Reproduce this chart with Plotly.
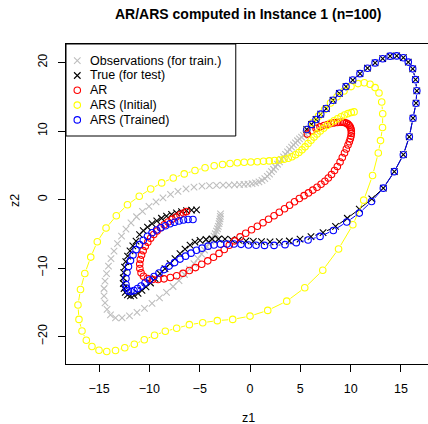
import math
import plotly.graph_objects as go

# ---------------- data ----------------
obs_z1 = [-2.93,-2.95,-2.98,-3.03,-3.08,-3.15,-3.23,-3.33,-3.45,-3.58,
          -3.73,-3.90,-4.08,-4.27,-4.52,-4.82,-5.17,-5.57,-6.01,-6.51,
          -7.06,-7.65,-8.30,-9.00,-9.74,-10.49,-11.23,-11.98,-12.72,-13.37,
          -13.87,-14.21,-14.41,-14.51,-14.51,-14.41,-14.26,-14.07,-13.82,-13.52,
          -13.17,-12.77,-12.33,-11.83,-11.28,-10.69,-10.04,-9.34,-8.65,-7.90,
          -7.16,-6.36,-5.57,-4.77,-4.03,-3.33,-2.68,-2.09,-1.54,-1.04,
          -0.60,-0.20,0.20,0.55,0.89,1.19,1.47,1.72,1.94,2.14,
          2.34,2.53,2.73,2.93,3.13,3.33,3.53,3.73,3.93,4.13,
          4.32,4.52,4.72,4.92,5.12,5.32,5.52,5.72]
obs_z2 = [-2.08,-2.44,-2.81,-3.17,-3.53,-3.90,-4.26,-4.62,-4.99,-5.35,
          -5.71,-6.08,-6.44,-6.88,-7.38,-7.97,-8.62,-9.35,-10.15,-10.94,
          -11.82,-12.69,-13.56,-14.36,-15.16,-15.89,-16.47,-16.98,-17.27,-17.27,
          -16.83,-16.03,-15.09,-14.07,-12.98,-11.89,-10.80,-9.71,-8.62,-7.53,
          -6.44,-5.35,-4.33,-3.39,-2.51,-1.72,-0.99,-0.33,0.25,0.76,
          1.19,1.56,1.80,1.95,2.02,2.06,2.09,2.11,2.14,2.17,
          2.21,2.25,2.33,2.43,2.57,2.79,3.05,3.37,3.71,4.06,
          4.42,4.78,5.15,5.51,5.87,6.24,6.60,6.96,7.33,7.66,
          7.98,8.28,8.58,8.85,9.11,9.36,9.59,9.81]

true_z1 = [5.64,6.11,6.56,7.03,7.58,8.25,8.88,9.54,10.21,10.93,
           11.68,12.43,13.19,13.92,14.58,15.24,15.73,16.17,16.45,16.58,
           16.50,16.20,15.83,15.24,14.34,13.25,
           12.10,10.86,9.67,8.50,7.26,6.06,4.97,3.91,2.91,1.99,
           1.14,0.33,-0.40,-1.14,-1.84,-2.49,-3.13,-3.78,-4.37,-4.97,
           -5.47,-5.96,-6.46,-6.96,-7.46,-7.95,-8.45,-8.95,-9.44,-9.89,
           -10.34,-10.74,-11.13,-11.53,-11.88,-12.18,-12.40,-12.52,-12.59,-12.60,
           -12.56,-12.47,-12.35,-12.17,-11.93,-11.65,-11.33,-10.98,-10.61,-10.19,
           -9.74,-9.27,-8.80,-8.30,-7.80,-7.31,-6.81,-6.31,-5.81,-5.32]
true_z2 = [10.23,10.97,11.69,12.46,13.28,14.49,15.51,16.48,17.44,18.37,
           19.17,19.94,20.55,20.93,20.96,20.70,20.06,19.07,17.50,15.87,
           14.06,11.88,9.16,6.54,4.07,1.66,
           0.10,-1.40,-2.73,-3.92,-4.84,-5.42,-5.78,-6.05,-6.15,-6.18,
           -6.15,-6.10,-6.03,-5.93,-5.86,-5.78,-5.76,-5.76,-5.83,-5.96,
           -6.22,-6.66,-7.24,-7.89,-8.62,-9.35,-10.07,-10.80,-11.53,-12.18,
           -12.76,-13.27,-13.68,-13.97,-14.07,-13.92,-13.56,-12.98,-12.25,-11.45,
           -10.65,-9.85,-9.06,-8.26,-7.50,-6.77,-6.08,-5.13,-4.55,-4.01,
           -3.53,-3.10,-2.73,-2.41,-2.15,-1.93,-1.76,-1.61,-1.53,-1.50]

ar_z1 = [5.70,6.13,6.56,6.96,7.36,7.72,8.05,8.38,8.68,8.95,
         9.17,9.37,9.57,9.74,9.87,9.97,10.04,10.07,10.07,10.04,9.97,9.87,
         9.74,9.57,9.39,9.17,8.95,8.68,8.40,8.10,7.78,7.44,
         7.06,6.66,6.24,5.81,5.37,4.90,4.42,3.93,3.43,2.91,
         2.39,1.84,1.29,0.73,0.15,-0.43,-0.99,-1.54,-2.06,-2.56,
         -3.08,-3.63,-4.20,-4.80,-5.42,-6.03,-6.66,-7.29,-7.92,-8.55,
         -9.14,-9.69,-10.19,-10.59,-10.83,
         -10.95,-10.96,-10.90,-10.78,-10.62,-10.41,-10.16,-9.88,-9.57,-9.24,
         -8.90,-8.53,-8.15,-7.75,-7.36,-6.96,-6.61,-6.31]
ar_z2 = [9.55,10.03,10.38,10.61,10.81,10.96,11.10,11.19,11.25,11.29,
         11.29,11.25,11.15,11.00,10.81,10.57,10.28,9.99,9.65,9.26,8.87,8.43,
         7.95,7.37,6.79,6.13,5.48,4.83,4.24,3.66,3.15,2.67,
         2.24,1.80,1.38,0.97,0.57,0.15,-0.33,-0.84,-1.35,-1.86,
         -2.37,-2.88,-3.39,-3.90,-4.40,-4.91,-5.45,-6.03,-6.66,-7.28,
         -7.86,-8.43,-8.95,-9.45,-9.93,-10.36,-10.77,-11.12,-11.38,-11.57,
         -11.67,-11.67,-11.53,-11.19,-10.70,
         -10.07,-9.42,-8.76,-8.11,-7.46,-6.83,-6.22,-5.64,-5.10,-4.59,
         -4.11,-3.68,-3.27,-2.89,-2.54,-2.22,-1.96,-1.74]

ars_init_z1 = [5.64,6.21,6.81,7.41,8.00,8.65,9.34,10.04,10.74,11.36,
               11.93,12.43,12.82,13.09,13.19,13.17,12.97,12.75,12.18,11.30,
               10.22,8.80,7.23,5.44,3.65,1.76,0.00,-1.72,-3.25,-4.70,
               -6.03,-7.29,-8.42,-9.49,-10.51,-11.50,-12.45,-13.37,-14.24,-15.01,
               -15.71,-16.27,-16.70,-17.00,-17.10,-16.85,-16.42,-15.83,-15.18,-14.31,
               -13.29,-12.18,-11.01,-9.87,-8.78,-7.63,-6.54,-5.47,-4.47,-3.56,
               -2.73,-1.99,-1.26,-0.58,0.08,0.73,1.34,1.91,2.44,2.93,
               3.38,3.80,4.17,4.52,4.85,5.17,5.47,5.77,6.06,6.36,
               6.66,6.98,7.31,7.65,8.00,8.35,8.70,9.05,9.39,9.74,10.06,10.34]
ars_init_z2 = [10.23,11.19,12.17,13.14,14.10,15.00,15.83,16.48,16.92,17.04,
               16.82,16.34,15.55,14.24,12.53,10.52,8.60,6.79,3.52,-0.09,
               -3.68,-7.21,-10.32,-12.88,-14.83,-16.18,-17.01,-17.49,-17.67,-17.97,
               -18.26,-18.79,-19.23,-19.81,-20.47,-21.12,-21.63,-22.02,-22.18,-21.99,
               -21.45,-20.54,-19.19,-17.49,-15.38,-13.13,-10.80,-8.40,-6.15,-4.16,
               -2.37,-0.77,0.49,1.53,2.43,3.15,3.74,4.24,4.65,4.93,
               5.12,5.26,5.36,5.44,5.48,5.52,5.58,5.64,5.70,5.77,
               5.87,6.03,6.25,6.53,6.86,7.25,7.69,8.17,8.65,9.11,
               9.58,10.01,10.42,10.81,11.18,11.51,11.80,12.08,12.33,12.54,12.70,12.79]

ars_tr_z1 = [5.64,6.11,6.56,7.03,7.58,8.25,8.88,9.54,10.21,10.93,
             11.68,12.43,13.19,13.92,14.58,15.24,15.73,16.17,16.45,16.58,
             16.50,16.20,15.83,15.24,14.34,13.25,12.08,10.86,9.61,8.28,
             6.96,5.77,4.60,3.48,2.39,1.44,0.60,-0.15,-0.89,-1.59,
             -2.29,-2.93,-3.58,-4.17,-4.77,-5.32,-5.86,-6.41,-6.96,-7.50,
             -8.05,-8.55,-9.05,-9.54,-9.99,-10.44,-10.83,-11.18,-11.53,-11.83,
             -12.08,-12.28,-12.33,-12.33,-12.23,-12.08,-11.88,-11.63,-11.33,-10.98,
             -10.61,-10.19,-9.74,-9.29,-8.85,-8.40,-7.95,-7.50,-7.06,-6.61,
             -6.16,-5.67]
ars_tr_z2 = [10.23,10.97,11.69,12.46,13.28,14.49,15.51,16.48,17.44,18.37,
             19.17,19.94,20.55,20.93,20.96,20.70,20.06,19.07,17.50,15.87,
             14.06,11.88,9.16,6.54,4.07,1.66,-0.29,-1.98,-3.28,-4.51,
             -5.38,-5.90,-6.29,-6.58,-6.69,-6.69,-6.66,-6.63,-6.54,-6.48,
             -6.48,-6.51,-6.63,-6.80,-7.09,-7.41,-7.82,-8.26,-8.69,-9.20,
             -9.71,-10.22,-10.73,-11.24,-11.74,-12.18,-12.62,-12.98,-13.27,-13.42,
             -13.34,-12.91,-12.40,-11.53,-10.65,-9.78,-8.91,-8.11,-7.31,-6.58,
             -5.93,-5.35,-4.84,-4.45,-4.11,-3.82,-3.53,-3.31,-3.13,-2.99,
             -2.92,-2.91]

x_ticks = [-15, -10, -5, 0, 5, 10, 15]
y_ticks = [-20, -10, 0, 10, 20]

legend_labels = ["Observations (for train.)", "True (for test)", "AR",
                 "ARS (Initial)", "ARS (Trained)"]
series_colors = ["#BEBEBE", "#000000", "#FF0000", "#FFFF00", "#0000FF"]
series_symbols = ["x-thin-open", "x-thin-open", "circle-open", "circle-open", "circle-open"]

FONT = "Liberation Sans, Arial, Helvetica, sans-serif"

X_RANGE = [-18.29, 17.69]
Y_RANGE = [-24.0, 22.7]
PLOT_W, PLOT_H = 362, 320
SX = PLOT_W / (X_RANGE[1] - X_RANGE[0])   # px per unit, x
SY = PLOT_H / (Y_RANGE[1] - Y_RANGE[0])   # px per unit, y


def gapped_segments(xs, ys, gap_px=4.5):
    """R type='b': join consecutive points with lines that stop short of each point."""
    gx, gy = [], []
    for i in range(len(xs) - 1):
        dx, dy = xs[i + 1] - xs[i], ys[i + 1] - ys[i]
        d = math.hypot(dx * SX, dy * SY)
        if d > 2 * gap_px + 0.5:
            f = gap_px / d
            gx += [xs[i] + dx * f, xs[i + 1] - dx * f, None]
            gy += [ys[i] + dy * f, ys[i + 1] - dy * f, None]
    return gx, gy


# ---------------- figure ----------------
fig = go.Figure()
series = [(obs_z1, obs_z2), (true_z1, true_z2), (ar_z1, ar_z2),
          (ars_init_z1, ars_init_z2), (ars_tr_z1, ars_tr_z2)]
for (xs, ys), col, sym, name in zip(series, series_colors, series_symbols, legend_labels):
    sx, sy = gapped_segments(xs, ys)
    fig.add_trace(go.Scatter(
        x=sx, y=sy, mode="lines", showlegend=False, hoverinfo="skip",
        line=dict(color=col, width=1), connectgaps=False))
    fig.add_trace(go.Scatter(
        x=xs, y=ys, mode="markers", name=name, showlegend=False,
        marker=dict(symbol=sym, size=6.5, color=col, line=dict(width=1.1, color=col)),
        hoverinfo="skip"))

# legend (R style, drawn manually)
leg_rows = [0.9478, 0.9016, 0.8553, 0.8091, 0.7628]
fig.add_trace(go.Scatter(
    x=[0.0312] * 5, y=leg_rows, xaxis="x2", yaxis="y2", mode="markers",
    showlegend=False, hoverinfo="skip",
    marker=dict(symbol=series_symbols, size=6.5, color=series_colors,
                line=dict(width=1.1, color=series_colors))))
fig.add_shape(type="rect", xref="paper", yref="paper", x0=0, x1=0.469,
              y0=0.7125, y1=1.0, line=dict(color="black", width=1),
              fillcolor="white", layer="below")
for lab, yy in zip(legend_labels, leg_rows):
    fig.add_annotation(x=0.0608, y=yy, xref="paper", yref="paper", text=lab,
                       showarrow=False, xanchor="left", yanchor="middle",
                       font=dict(family=FONT, size=12.5, color="black"))

# titles
fig.add_annotation(x=0.503, y=1.094, xref="paper", yref="paper",
                   text="<b>AR/ARS computed in Instance 1 (n=100)</b>",
                   showarrow=False, xanchor="center", yanchor="middle",
                   font=dict(family=FONT, size=14, color="black"))
fig.add_annotation(x=0.503, y=-0.169, xref="paper", yref="paper", text="z1",
                   showarrow=False, xanchor="center", yanchor="middle",
                   font=dict(family=FONT, size=12.5, color="black"))
fig.add_annotation(x=-0.141, y=0.5125, xref="paper", yref="paper", text="z2",
                   showarrow=False, xanchor="center", yanchor="middle", textangle=-90,
                   font=dict(family=FONT, size=12.5, color="black"))

axis_common = dict(showgrid=False, zeroline=False, showline=True, linecolor="black",
                   linewidth=1, ticks="outside", ticklen=7, tickwidth=1,
                   tickcolor="black", automargin=False,
                   tickfont=dict(family=FONT, size=12.5, color="black"))
fig.update_layout(
    template="none",
    width=428, height=424, autosize=False,
    margin=dict(l=66, r=0, t=44, b=60, pad=0),
    paper_bgcolor="white", plot_bgcolor="white",
    xaxis=dict(range=X_RANGE, tickvals=x_ticks, mirror=True,
               ticklabelstandoff=6, **axis_common),
    yaxis=dict(range=Y_RANGE, tickvals=y_ticks, tickangle=-90, mirror=False,
               ticklabelstandoff=6, **axis_common),
    xaxis2=dict(overlaying="x", range=[0, 1], visible=False),
    yaxis2=dict(overlaying="y", range=[0, 1], visible=False),
    showlegend=False,
)

fig.write_html(
    "out.html",
    config={"displayModeBar": False},
    post_script="document.body.style.margin='0';document.body.style.padding='0';"
                "document.body.style.overflow='hidden';",
)
